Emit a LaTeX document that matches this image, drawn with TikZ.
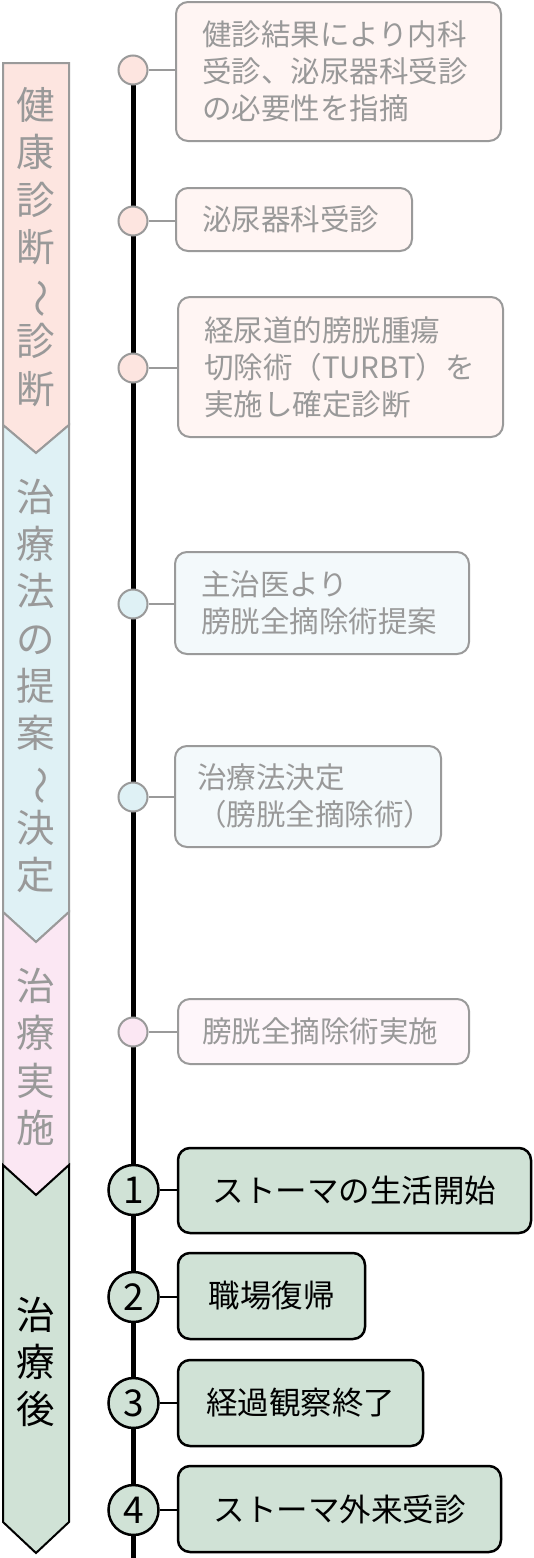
\documentclass[tikz,border=0pt]{standalone}
\usepackage{fontspec}
\setmainfont{Noto Sans CJK JP}
\usetikzlibrary{backgrounds}
\definecolor{gtext}{HTML}{999999}
\definecolor{gline}{HTML}{9A9A9A}
\definecolor{pinkA}{HTML}{FDE5E0}
\definecolor{pinkAbox}{HTML}{FFF5F3}
\definecolor{blueA}{HTML}{DFF1F5}
\definecolor{blueAbox}{HTML}{F3F9FB}
\definecolor{pinkB}{HTML}{FBE7F3}
\definecolor{pinkBbox}{HTML}{FEF6FA}
\definecolor{greenA}{HTML}{D0E2D6}
\tikzset{
  bandline/.style={line width=2pt, line join=miter},
  vtext/.style={align=center, inner sep=0pt, font=\fontsize{38.5}{47.3}\selectfont},
  ebox/.style={draw=gline, line width=2pt, rounded corners=12pt, text=gtext,
    align=left, inner xsep=26pt, inner ysep=0pt,
    font=\fontsize{29.5}{37}\selectfont},
  gbox/.style={draw=black, fill=greenA, line width=2.5pt, rounded corners=12pt,
    align=center, inner sep=0pt, font=\fontsize{31.5}{37}\selectfont},
  dot/.style={circle, draw=gline, line width=2pt, minimum size=29pt, inner sep=0pt},
  numc/.style={circle, draw=black, fill=greenA, line width=2.5pt, minimum size=50pt,
    inner sep=0pt, font=\fontsize{37}{37}\selectfont},
  glink/.style={draw=gline, line width=2.5pt},
  blink/.style={draw=black, line width=2.5pt},
}
\newcommand{\vwave}{\rotatebox[origin=c]{-90}{〜}}
\begin{document}
\begin{tikzpicture}[x=1pt, y=-1pt]
\useasboundingbox (0,0) rectangle (533,1558);
% phase bands
\draw[bandline, draw=gline, fill=pinkA] (3,63) -- (69,63) -- (69,425) -- (36,453) -- (3,425) -- cycle;
\draw[bandline, draw=gline, fill=blueA] (3,425) -- (36,453) -- (69,425) -- (69,912) -- (36,942) -- (3,912) -- cycle;
\draw[bandline, draw=gline, fill=pinkB] (3,912) -- (36,942) -- (69,912) -- (69,1165) -- (36,1195) -- (3,1165) -- cycle;
\draw[bandline, draw=black, fill=greenA] (3,1165) -- (36,1195) -- (69,1165) -- (69,1522) -- (36,1553) -- (3,1522) -- cycle;
\node[vtext, text=gtext] (p1) at (36,247) {健\\康\\診\\断\\\vwave\\診\\断};
\node[vtext, text=gtext] (p2) at (36,686) {治\\療\\法\\の\\提\\案\\\vwave\\決\\定};
\node[vtext, text=gtext] (p3) at (36,1057) {治\\療\\実\\施};
\node[vtext, text=black] (p4) at (36,1362) {治\\療\\後};
% events
\node[dot, fill=pinkA] (c1) at (133,70) {};
\node[dot, fill=pinkA] (c2) at (133,221) {};
\node[dot, fill=pinkA] (c3) at (133,368) {};
\node[dot, fill=blueA] (c4) at (133,604) {};
\node[dot, fill=blueA] (c5) at (133,797) {};
\node[dot, fill=pinkB] (c6) at (133,1032) {};
\node[numc] (n1) at (133.5,1190) {1};
\node[numc] (n2) at (133.5,1297) {2};
\node[numc] (n3) at (133.5,1403) {3};
\node[numc] (n4) at (133.5,1510) {4};
\coordinate (tend) at (133,1560);
\begin{scope}[on background layer]
\draw[line width=5pt] (c1.center) -- (tend);
\end{scope}
\node[ebox, fill=pinkAbox, minimum width=325pt, minimum height=139pt, text width=273pt] (b1) at (338.5,71.5) {健診結果により内科\\受診、泌尿器科受診\\の必要性を指摘};
\node[ebox, fill=pinkAbox, minimum width=236pt, minimum height=63pt, text width=184pt] (b2) at (294,219.5) {泌尿器科受診};
\node[ebox, fill=pinkAbox, minimum width=325pt, minimum height=140pt, text width=273pt] (b3) at (340.5,367) {経尿道的膀胱腫瘍\\切除術（TURBT）を\\実施し確定診断};
\node[ebox, fill=blueAbox, minimum width=294pt, minimum height=102pt, text width=242pt] (b4) at (322,603) {主治医より\\膀胱全摘除術提案};
\node[ebox, fill=blueAbox, inner xsep=22pt, minimum width=266pt, minimum height=101pt, text width=222pt] (b5) at (308,796.5) {治療法決定\\（膀胱全摘除術）};
\node[ebox, fill=pinkBbox, inner xsep=24pt, minimum width=291pt, minimum height=65pt, text width=243pt] (b6) at (323.5,1031.5) {膀胱全摘除術実施};
\node[gbox, minimum width=353pt, minimum height=85pt] (b7) at (354.5,1190.5) {ストーマの生活開始};
\node[gbox, minimum width=187pt, minimum height=86pt] (b8) at (271.5,1296) {職場復帰};
\node[gbox, minimum width=245pt, minimum height=86pt] (b9) at (300.5,1403) {経過観察終了};
\node[gbox, minimum width=323pt, minimum height=86pt] (b10) at (339.5,1509) {ストーマ外来受診};
% links
\draw[glink] (c1) -- (b1.west |- c1);
\draw[glink] (c2) -- (b2.west |- c2);
\draw[glink] (c3) -- (b3.west |- c3);
\draw[glink] (c4) -- (b4.west |- c4);
\draw[glink] (c5) -- (b5.west |- c5);
\draw[glink] (c6) -- (b6.west |- c6);
\draw[blink] (n1) -- (b7.west |- n1);
\draw[blink] (n2) -- (b8.west |- n2);
\draw[blink] (n3) -- (b9.west |- n3);
\draw[blink] (n4) -- (b10.west |- n4);
\end{tikzpicture}
\end{document}
